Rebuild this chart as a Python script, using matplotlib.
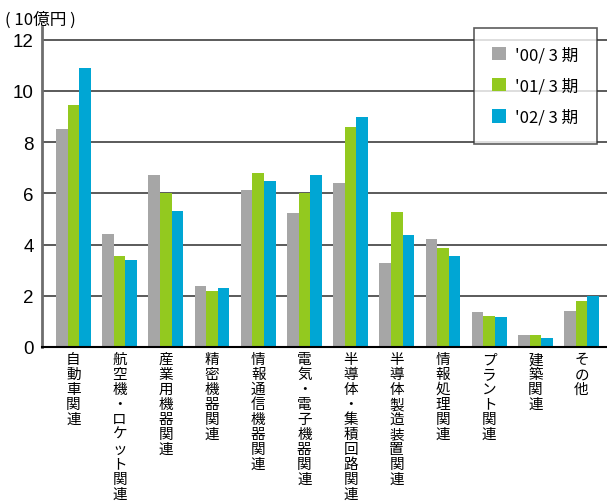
import matplotlib
matplotlib.use("Agg")
import numpy as np
import matplotlib.pyplot as plt
from matplotlib.patches import Patch

categories = ["自動車関連", "航空機・ロケット関連", "産業用機器関連", "精密機器関連",
              "情報通信機器関連", "電気・電子機器関連", "半導体・集積回路関連",
              "半導体製造装置関連", "情報処理関連", "プラント関連", "建築関連", "その他"]
series_names = ["'00/ 3 期", "'01/ 3 期", "'02/ 3 期"]
v00 = [8.5, 4.4, 6.7, 2.4, 6.15, 5.25, 6.4, 3.3, 4.2, 1.35, 0.45, 1.42]
v01 = [9.45, 3.57, 6.0, 2.2, 6.78, 6.03, 8.58, 5.27, 3.88, 1.22, 0.48, 1.8]
v02 = [10.9, 3.4, 5.3, 2.3, 6.47, 6.7, 8.97, 4.37, 3.54, 1.18, 0.36, 2.0]
colors = ["#a6a6a6", "#93c91f", "#00a6d4"]

plt.rcParams['font.family'] = ['Noto Sans CJK JP', 'DejaVu Sans']

fig = plt.figure(figsize=(6.07, 5.02), dpi=100)
W, H = 607, 502
ax = fig.add_axes([42 / W, (H - 348) / H, (W - 42) / W, (348 - 28) / H])

x = np.arange(len(categories))
bw = 0.252
for k, vals in enumerate([v00, v01, v02]):
    ax.bar(x + (k - 1) * bw, vals, width=bw, color=colors[k], label=series_names[k], zorder=3)

ax.set_xlim(-0.68, 11.55)
ax.set_ylim(0, 12.5)
ax.set_yticks(range(0, 13, 2))
ax.set_yticklabels([str(v) for v in range(0, 13, 2)], family='Liberation Sans', fontsize=13.5)
ax.tick_params(axis='y', length=0, pad=6)
ax.tick_params(axis='x', length=0)
ax.set_xticks([])
for yv in range(2, 13, 2):
    ax.axhline(yv, color='#5a5a5a', lw=1.4, zorder=1)
ax.spines['top'].set_visible(False)
ax.spines['right'].set_visible(False)
ax.spines['left'].set_color('#6e6e6e')
ax.spines['left'].set_linewidth(2)
ax.spines['bottom'].set_color('black')
ax.spines['bottom'].set_linewidth(1.5)
ax.spines['bottom'].set_zorder(4)

# 縦書きラベル
for i, name in enumerate(categories):
    ax.text(i, -0.2, "\n".join(name), ha='center', va='top', fontsize=10.5,
            linespacing=1.09, transform=ax.transData, clip_on=False)

fig.text(5 / W, 1 - 20 / H, "( 10億円 )", fontsize=12, va='center', ha='left')

handles = [Patch(facecolor=c) for c in colors]
leg = ax.legend(handles, series_names, loc='upper right', bbox_to_anchor=((597 - 42) / (W - 42), 1 - 1 / 320),
                frameon=True, fancybox=False, edgecolor='#333333', fontsize=12,
                handlelength=0.85, handleheight=0.85, labelspacing=0.85, borderpad=1.1,
                handletextpad=0.55, borderaxespad=0)
leg.get_frame().set_linewidth(1.2)
leg.set_zorder(5)

fig.savefig("out.png", dpi=100)
